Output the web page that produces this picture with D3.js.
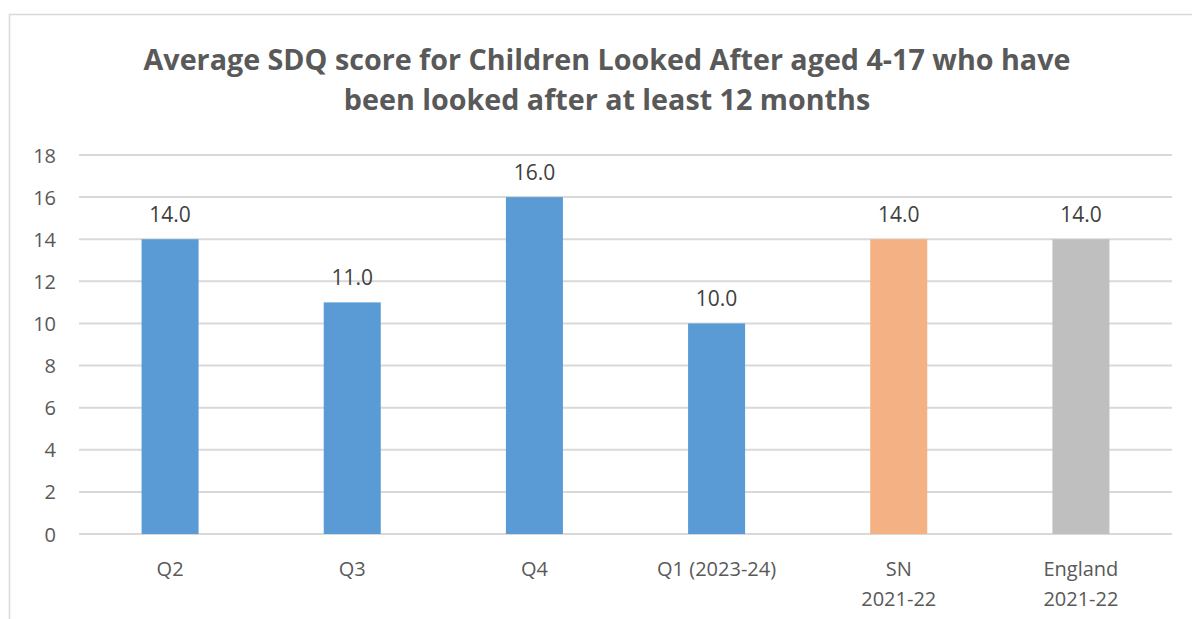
<!DOCTYPE html>
<html>
<head>
<meta charset="utf-8">
<script src="https://cdn.jsdelivr.net/npm/d3@7"></script>
<style>
  body { margin: 0; background: #fff; }
  text { font-family: "Open Sans", "Liberation Sans", sans-serif; }
</style>
</head>
<body>
<div id="chart"></div>
<script>
// chart data
const categories = ["Q2", "Q3", "Q4", "Q1 (2023-24)", "SN\n2021-22", "England\n2021-22"];
const scores = [14.0, 11.0, 16.0, 10.0, 14.0, 14.0];
const barColors = ["#5B9BD5", "#5B9BD5", "#5B9BD5", "#5B9BD5", "#F4B183", "#BFBFBF"];
const yTicks = [0, 2, 4, 6, 8, 10, 12, 14, 16, 18];
const titleLines = ["Average SDQ score for Children Looked After aged 4-17 who have",
                    "been looked after at least 12 months"];

const width = 1192, height = 619;
const plot = {left: 79, right: 1172, top: 155, bottom: 534};

let svg = d3.select("#chart")
  .append("svg")
  .attr("width", width)
  .attr("height", height);

// chart frame (only top and left show in the crop)
svg.append("path")
  .attr("d", `M9.5,${height} V14.5 H${width}`)
  .attr("fill", "none")
  .attr("stroke", "#D9D9D9")
  .attr("stroke-width", 1.5);

// title
svg.append("g")
  .selectAll("text")
  .data(titleLines)
  .join("text")
    .attr("x", 607)
    .attr("y", (d, i) => 70 + i * 40)
    .attr("text-anchor", "middle")
    .attr("font-size", "28.7px")
    .attr("font-weight", "bold")
    .attr("fill", "#595959")
    .text(d => d);

let x = d3.scaleBand()
  .domain(categories)
  .range([plot.left, plot.right]);

let y = d3.scaleLinear()
  .domain([0, 18])
  .range([plot.bottom, plot.top]);

// gridlines
svg.append("g")
  .selectAll("line")
  .data(yTicks)
  .join("line")
    .attr("x1", plot.left)
    .attr("x2", plot.right)
    .attr("y1", d => y(d))
    .attr("y2", d => y(d))
    .attr("stroke", "#D9D9D9")
    .attr("stroke-width", 2);

// y axis labels
let yAxis = svg.append("g")
  .attr("transform", `translate(${plot.left - 23},0)`)
  .call(d3.axisLeft(y).tickValues(yTicks).tickSize(0).tickPadding(0));
yAxis.select(".domain").remove();
yAxis.selectAll("text")
  .attr("font-size", "20px")
  .attr("font-family", "'Open Sans', sans-serif")
  .attr("fill", "#595959")
  .attr("dy", "0.35em");

// bars
const barW = x.bandwidth() * 0.313;
svg.append("g")
  .selectAll("rect")
  .data(scores)
  .join("rect")
    .attr("x", (d, i) => x(categories[i]) + x.bandwidth() / 2 - barW / 2)
    .attr("y", d => y(d))
    .attr("width", barW)
    .attr("height", d => y(0) - y(d))
    .attr("fill", (d, i) => barColors[i]);

// value labels
svg.append("g")
  .selectAll("text")
  .data(scores)
  .join("text")
    .attr("x", (d, i) => x(categories[i]) + x.bandwidth() / 2)
    .attr("y", d => y(d) - 17)
    .attr("text-anchor", "middle")
    .attr("font-size", "21px")
    .attr("fill", "#404040")
    .text(d => d.toFixed(1));

// category labels
let xLabels = svg.append("g")
  .selectAll("text")
  .data(categories)
  .join("text")
    .attr("x", d => x(d) + x.bandwidth() / 2)
    .attr("y", 576)
    .attr("text-anchor", "middle")
    .attr("font-size", "20px")
    .attr("fill", "#595959");
xLabels.selectAll("tspan")
  .data(d => d.split("\n"))
  .join("tspan")
    .attr("x", function() { return this.parentNode.getAttribute("x"); })
    .attr("dy", (d, i) => i === 0 ? 0 : 30)
    .text(d => d);
</script>
</body>
</html>
